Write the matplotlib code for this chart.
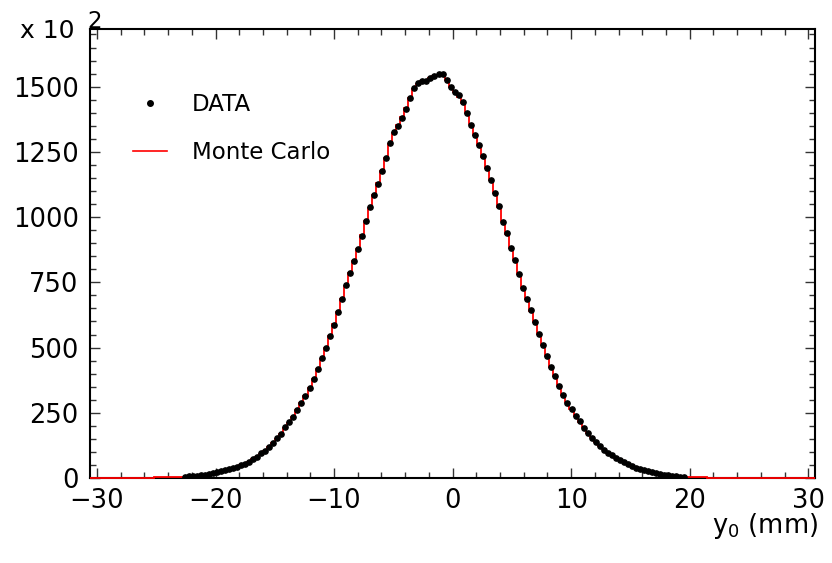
import numpy as np
import matplotlib
matplotlib.use("Agg")
import matplotlib.pyplot as plt
from matplotlib.ticker import MultipleLocator
from matplotlib.lines import Line2D

# y0 distribution, 180 bins of 0.34 mm between -30.6 and 30.6 (counts in units of 10^2)
bin_lo, bin_hi, n_bins = -30.6, 30.6, 180

# Monte Carlo, one value per bin
mc_counts = [
    0.3, 0.3, 0.4, 0.4, 0.5, 0.5, 0.6, 0.7, 0.8, 0.9,
    1.0, 1.1, 1.3, 1.4, 1.6, 1.8, 2.0, 2.3, 2.6, 2.9,
    3.3, 3.8, 4.3,
    4.9, 5.8, 7.0, 8.5, 10.5, 12.8, 15.5, 18.7, 22, 25.5,
    29, 33, 37.5, 42.5, 48, 54.5, 62, 71, 81, 92,
    104, 118, 133, 150, 169, 191, 212, 235, 261, 287,
    315, 345, 380, 418, 458, 500, 544, 590, 637, 687,
    737, 785, 833, 879, 930, 984, 1036, 1084, 1129, 1178,
    1228, 1280, 1322, 1352, 1382, 1418, 1456, 1490, 1510, 1520,
    1524, 1533, 1541, 1546, 1543, 1524, 1500,
    1480, 1462, 1436, 1398, 1356, 1316, 1275, 1232, 1188, 1142,
    1092, 1040, 985, 936, 883, 834, 781, 730, 686, 642,
    597, 553, 510, 467, 427, 390, 352, 319, 290, 263,
    238, 216, 194, 174, 156, 138, 123, 110, 97, 87,
    78, 70, 62, 55, 48, 41, 35.5, 30.5, 26, 22,
    18.5, 15.5, 12.8, 10.5, 8.5, 6.8, 5.5, 4.5,
    3.7, 3.1, 2.6, 2.2, 1.9, 1.6, 1.4, 1.2, 1.0, 0.9,
    0.8, 0.7, 0.6, 0.5, 0.5, 0.4, 0.4, 0.35, 0.3, 0.3,
    0.25, 0.25, 0.2, 0.2, 0.2, 0.15, 0.15, 0.1, 0.1, 0.1,
    0.1, 0.1,
]

# data points, filled bins only (first filled bin index below)
data_first_bin = 23
data_counts = [
    5, 6, 8, 9, 11, 13, 16, 19, 22, 25,
    29, 33, 37, 42, 48, 54, 62, 72, 82, 94,
    104, 118, 133, 152, 169, 194, 213, 234, 262, 288,
    316, 345, 381, 418, 460, 498, 545, 588, 637, 686,
    740, 784, 833, 876, 927, 985, 1040, 1085, 1125, 1178,
    1226, 1285, 1327, 1350, 1378, 1415, 1455, 1494, 1514, 1521,
    1520, 1533, 1540, 1549, 1548, 1525, 1497,
    1480, 1468, 1440, 1398, 1354, 1316, 1276, 1233, 1187, 1143,
    1093, 1041, 980, 938, 882, 836, 781, 728, 686, 644,
    598, 553, 509, 466, 425, 391, 351, 317, 289, 264,
    237, 217, 193, 173, 155, 137, 123, 109, 96, 87,
    77, 70, 61, 54, 47, 40, 35, 30, 26, 22,
    18, 15, 12, 10, 8, 6, 5, 4,
]

edges = np.linspace(bin_lo, bin_hi, n_bins + 1)
centers = 0.5 * (edges[:-1] + edges[1:])
data_x = centers[data_first_bin:data_first_bin + len(data_counts)]

plt.rcParams["font.family"] = "DejaVu Sans"

fig = plt.figure(figsize=(8.32, 5.63), dpi=100)
ax = fig.add_axes([0.108, 0.151, 0.872, 0.797])

# MC histogram drawn over the bottom spine, as in the original PAW plot
ax.stairs(mc_counts, edges, color="red", lw=1.3, zorder=3, clip_on=False)
ax.plot(data_x, data_counts, "o", color="black", ms=3.8, zorder=4)

ax.set_xlim(bin_lo, bin_hi)
ax.set_ylim(0, 1720)
ax.xaxis.set_major_locator(MultipleLocator(10))
ax.xaxis.set_minor_locator(MultipleLocator(2))
ax.yaxis.set_major_locator(MultipleLocator(250))
ax.yaxis.set_minor_locator(MultipleLocator(50))
ax.tick_params(which="both", direction="in", top=True, right=True,
               labelsize=18.5, width=1, color="#333333")
ax.tick_params(which="major", length=7)
ax.tick_params(which="minor", length=4)
ax.tick_params(axis="y", pad=8)
ax.tick_params(axis="x", pad=7)
for s in ax.spines.values():
    s.set_linewidth(1.5)
    s.set_zorder(2)

# PAW style exponent at the top of the y axis
fig.text(75 / 832, 1 - 38 / 563, "x 10", fontsize=18, ha="right", va="baseline")
fig.text(87 / 832, 1 - 28 / 563, "2", fontsize=16.5, ha="left", va="baseline")

fig.text(818 / 832, 1 - 533 / 563, r"$\mathregular{y_0}$ (mm)", fontsize=18.5,
         ha="right", va="baseline")

handles = [
    Line2D([], [], ls="none", marker="o", color="black", ms=4),
    Line2D([], [], color="red", lw=1.2),
]
ax.legend(handles, ["DATA", "Monte Carlo"], loc="upper left",
          bbox_to_anchor=(0.059, 0.858), frameon=False, fontsize=16.5,
          handlelength=1.5, handletextpad=1.1, labelspacing=1.1, borderpad=0,
          borderaxespad=0)

fig.savefig("out.png", dpi=100)
